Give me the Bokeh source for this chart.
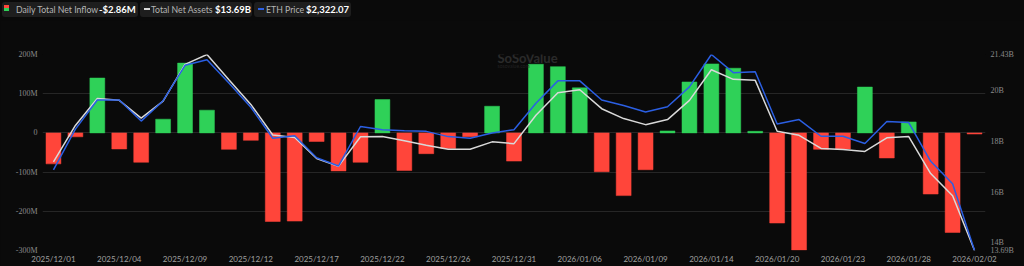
from bokeh.plotting import figure
from bokeh.models import (Range1d, LinearAxis, FixedTicker, CustomJSTickFormatter,
                          Label, ColumnDataSource, Div)
from bokeh.layouts import column
from bokeh.embed import file_html
from bokeh.resources import INLINE

# ---------------- data ----------------
dates = [
    "2025/12/01", "2025/12/02", "2025/12/03", "2025/12/04", "2025/12/05",
    "2025/12/08", "2025/12/09", "2025/12/10", "2025/12/11", "2025/12/12",
    "2025/12/15", "2025/12/16", "2025/12/17", "2025/12/18", "2025/12/19",
    "2025/12/22", "2025/12/23", "2025/12/24", "2025/12/26",
    "2025/12/29", "2025/12/30", "2025/12/31",
    "2026/01/02",
    "2026/01/05", "2026/01/06", "2026/01/07", "2026/01/08", "2026/01/09",
    "2026/01/12", "2026/01/13", "2026/01/14", "2026/01/15", "2026/01/16",
    "2026/01/20", "2026/01/21", "2026/01/22", "2026/01/23",
    "2026/01/26", "2026/01/27", "2026/01/28", "2026/01/29", "2026/01/30",
    "2026/02/02",
]
net_inflow_m = [
    -79, -10, 140, -41, -75,
    35, 178, 58, -42, -19,
    -226, -225, -22, -97, -75,
    85, -96, -53, -40,
    -10, 68, -72,
    175,
    169, 115, -99, -160, -94,
    5, 130, 176, 165, 4,
    -230, -299, -42, -41,
    117, -64, 28, -156, -254,
    -2.86,
]
total_assets_b = [
    17.19, 18.63, 19.69, 19.62, 18.92,
    19.59, 21.04, 21.43, 20.43, 19.46,
    18.25, 18.15, 17.32, 17.02, 18.18,
    18.19, 18.02, 17.85, 17.69,
    17.69, 17.98, 17.91,
    19.03,
    19.92, 20.04, 19.29, 18.90, 18.66,
    18.86, 19.62, 20.83, 20.45, 20.41,
    18.40, 18.24, 17.72, 17.68,
    17.60, 18.14, 18.19, 16.73, 15.85,
    13.69,
]
eth_price = [
    2753, 2971, 3127, 3127, 3014,
    3123, 3312, 3342, 3218, 3088,
    2922, 2936, 2818, 2774, 2985,
    2968, 2962, 2959, 2931,
    2922, 2950, 2968,
    3109,
    3229, 3229, 3127, 3097, 3063,
    3091, 3197, 3370, 3273, 3278,
    2998, 3022, 2933, 2933,
    2894, 3012, 3006, 2799, 2679,
    2322.07,
]
left_ticks = [-300, -200, -100, 0, 100, 200]
right_ticks = [13.69, 14, 16, 18, 20, 21.43]
legend_names = ["Daily Total Net Inflow", "Total Net Assets", "ETH Price"]
legend_values = ["-$2.86M", "$13.69B", "$2,322.07"]

# ---------------- style ----------------
BG = "#0a0a0a"
GREEN = "#2fd158"
RED = "#ff453a"
WHITE_LINE = "#d9d9d9"
BLUE_LINE = "#2b5fe3"
GRID = "#262626"
AXIS_TXT = "#8a8a8a"
LEG_BG = "#1e1e1e"

W, H = 1024, 266
LEG_H = 20
FL, FR, FT, FB = 42, 39, 54 - LEG_H, 14   # frame borders of the figure

idx = list(range(len(dates)))

p = figure(width=W, height=H - LEG_H, output_backend="svg", toolbar_location=None,
           x_range=Range1d(-0.5, len(dates) - 0.5), y_range=Range1d(left_ticks[0], left_ticks[-1]),
           background_fill_color=BG, border_fill_color=BG,
           min_border_left=FL, min_border_right=FR, min_border_top=FT, min_border_bottom=FB)
p.outline_line_color = None
p.xgrid.visible = False
p.ygrid.ticker = FixedTicker(ticks=left_ticks)
p.ygrid.grid_line_color = GRID
p.ygrid.grid_line_width = 1

p.extra_y_ranges = {
    "assets": Range1d(min(total_assets_b), max(total_assets_b)),
    "eth": Range1d(min(eth_price), max(eth_price)),
}

def style_axis(ax, font, size, color, standoff):
    ax.axis_line_color = None
    ax.major_tick_line_color = None
    ax.minor_tick_line_color = None
    ax.major_tick_out = 0
    ax.major_tick_in = 0
    ax.minor_tick_out = 0
    ax.minor_tick_in = 0
    ax.major_label_text_font = font
    ax.major_label_text_font_size = size
    ax.major_label_text_color = color
    ax.major_label_standoff = standoff

ya = p.yaxis[0]
ya.ticker = FixedTicker(ticks=left_ticks)
ya.formatter = CustomJSTickFormatter(code="return tick == 0 ? '0' : tick + 'M';")
style_axis(ya, "Liberation Serif", "8px", AXIS_TXT, 5)

ra = LinearAxis(y_range_name="assets", ticker=FixedTicker(ticks=right_ticks),
                formatter=CustomJSTickFormatter(
                    code="return (Number.isInteger(tick) ? tick.toFixed(0) : tick.toFixed(2)) + 'B';"))
style_axis(ra, "Liberation Serif", "8px", AXIS_TXT, 5)
p.add_layout(ra, "right")

xa = p.xaxis[0]
xticks = list(range(0, len(dates), 3))
xa.ticker = FixedTicker(ticks=xticks)
xa.major_label_overrides = {i: dates[i] for i in xticks}
style_axis(xa, "Lato", "8px", "#a0a0a0", 3)

src = ColumnDataSource(dict(x=idx, top=net_inflow_m,
                            color=[GREEN if v >= 0 else RED for v in net_inflow_m]))
p.vbar(x="x", top="top", bottom=0, width=0.68, source=src,
       fill_color="color", line_color="color", line_width=0.5)

p.line(idx, total_assets_b, y_range_name="assets", line_color=WHITE_LINE, line_width=1.5)
p.line(idx, eth_price, y_range_name="eth", line_color=BLUE_LINE, line_width=1.5)

# watermark (screen coords relative to frame, y from frame bottom)
p.add_layout(Label(x=497 - FL, y=(H - FB) - 59, x_units="screen", y_units="screen",
                   text="SoSoValue", text_color="#2a2a2a", text_font="Lato",
                   text_font_size="13px", text_font_style="bold", text_baseline="middle"))
p.add_layout(Label(x=497 - FL, y=(H - FB) - 67, x_units="screen", y_units="screen",
                   text="sosovalue.com", text_color="#222222", text_font="Lato",
                   text_font_size="5px", text_baseline="middle"))

# ---------------- legend row (HTML) ----------------
def blk(x, y, w, h, style, content=""):
    return (f'<div style="position:absolute;left:{x}px;top:{y}px;width:{w}px;height:{h}px;'
            f'{style}">{content}</div>')

def txt(x, text, color, size, bold=False):
    weight = "700" if bold else "400"
    return (f'<div style="position:absolute;left:{x}px;top:2px;height:15px;line-height:15px;'
            f'white-space:nowrap;font-family:Lato;font-size:{size};font-weight:{weight};'
            f'color:{color};">{text}</div>')

parts = [
    blk(2, 2, 136, 15, f"background:{LEG_BG};border-radius:3px;"),
    blk(140, 2, 112, 15, f"background:{LEG_BG};border-radius:3px;"),
    blk(254, 2, 97, 15, f"background:{LEG_BG};border-radius:3px;"),
    blk(4, 5, 5, 3, f"background:{RED};"),
    blk(4, 8, 5, 3, f"background:{GREEN};"),
    blk(144, 8, 6, 2, f"background:{WHITE_LINE};"),
    blk(258, 8, 6, 2, f"background:{BLUE_LINE};"),
    txt(16, legend_names[0], "#b5b5b5", "8.7px"),
    txt(99, legend_values[0], "#ffffff", "9.5px", True),
    txt(151, legend_names[1], "#b5b5b5", "8.7px"),
    txt(215, legend_values[1], "#ffffff", "9.5px", True),
    txt(266, legend_names[2], "#b5b5b5", "8.7px"),
    txt(306, legend_values[2], "#ffffff", "9.5px", True),
]
html = (f'<div style="position:relative;width:{W}px;height:{LEG_H}px;background:{BG};">'
        + "".join(parts) + "</div>")
legend_div = Div(text=html, width=W, height=LEG_H, margin=(0, 0, 0, 0),
                 styles={"background-color": BG})

layout = column(legend_div, p, spacing=0, margin=(0, 0, 0, 0),
                styles={"background-color": BG})

open("out.html", "w").write(file_html(layout, INLINE))
